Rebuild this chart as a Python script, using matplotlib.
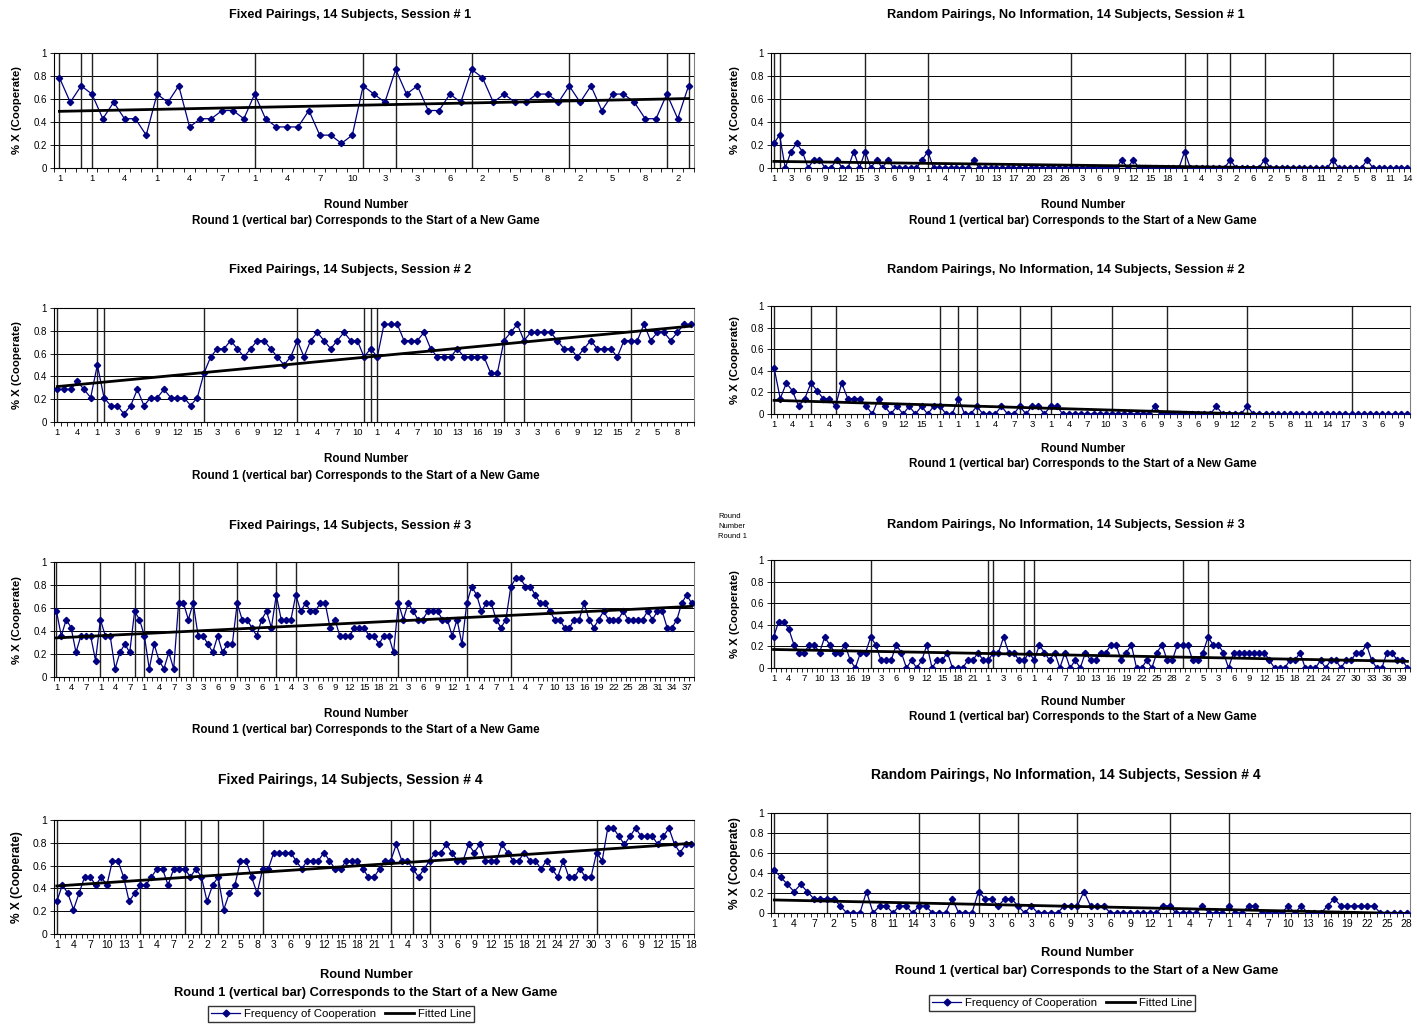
import matplotlib
matplotlib.use('Agg')
import matplotlib.pyplot as plt
from matplotlib.lines import Line2D
import numpy as np

plt.rcParams['font.family'] = ['Liberation Sans', 'DejaVu Sans']

W, H = 1417, 1026
N_SUBJECTS = 14

# ---- Fixed pairings (left column) ----
# number of subjects (out of 14) choosing X in each round
fixed1_counts = [11, 8, 10, 9, 6, 8, 6, 6, 4, 9, 8, 10, 5, 6, 6, 7, 7, 6, 9, 6,
                 5, 5, 5, 7, 4, 4, 3, 4, 10, 9, 8, 12, 9, 10, 7, 7, 9, 8, 12, 11,
                 8, 9, 8, 8, 9, 9, 8, 10, 8, 10, 7, 9, 9, 8, 6, 6, 9, 6, 10]
fixed1_starts = [0, 2, 3, 9, 18, 28, 31, 38, 47, 56, 58]
fixed1_labels = [1, 1, 4, 1, 4, 7, 1, 4, 7, 10, 3, 3, 6, 2, 5, 8, 2, 5, 8, 2]

fixed2_counts = [4, 4, 4, 5, 4, 3, 7, 3, 2, 2, 1, 2, 4, 2, 3, 3, 4, 3, 3, 3,
                 2, 3, 6, 8, 9, 9, 10, 9, 8, 9, 10, 10, 9, 8, 7, 8, 10, 8, 10, 11,
                 10, 9, 10, 11, 10, 10, 8, 9, 8, 12, 12, 12, 10, 10, 10, 11, 9, 8, 8, 8,
                 9, 8, 8, 8, 8, 6, 6, 10, 11, 12, 10, 11, 11, 11, 11, 10, 9, 9, 8, 9,
                 10, 9, 9, 9, 8, 10, 10, 10, 12, 10, 11, 11, 10, 11, 12, 12]
fixed2_starts = [0, 6, 7, 22, 36, 46, 47, 48, 67, 70, 86]
fixed2_labels = [1, 4, 1, 3, 6, 9, 12, 15, 3, 6, 9, 12, 1, 4, 7, 10, 1, 4, 7, 10,
                 13, 16, 19, 3, 3, 6, 9, 12, 15, 2, 5, 8]

fixed3_counts = [8, 5, 7, 6, 3, 5, 5, 5, 2, 7, 5, 5, 1, 3, 4, 3, 8, 7, 5, 1,
                 4, 2, 1, 3, 1, 9, 9, 7, 9, 5, 5, 4, 3, 5, 3, 4, 4, 9, 7, 7,
                 6, 5, 7, 8, 6, 10, 7, 7, 7, 10, 8, 9, 8, 8, 9, 9, 6, 7, 5, 5,
                 5, 6, 6, 6, 5, 5, 4, 5, 5, 3, 9, 7, 9, 8, 7, 7, 8, 8, 8, 7,
                 7, 5, 7, 4, 9, 11, 10, 8, 9, 9, 7, 6, 7, 11, 12, 12, 11, 11, 10, 9,
                 9, 8, 7, 7, 6, 6, 7, 7, 9, 7, 6, 7, 8, 7, 7, 7, 8, 7, 7, 7,
                 7, 8, 7, 8, 8, 6, 6, 7, 9, 10, 9]
fixed3_starts = [0, 9, 16, 18, 25, 28, 37, 45, 49, 70, 84, 93]
fixed3_labels = [1, 4, 7, 1, 4, 7, 1, 4, 7, 3, 3, 6, 9, 3, 6, 1, 4, 3, 6, 9,
                 12, 15, 18, 21, 3, 6, 9, 12, 1, 4, 7, 1, 4, 7, 10, 13, 16, 19, 22, 25,
                 28, 31, 34, 37]

fixed4_counts = [4, 6, 5, 3, 5, 7, 7, 6, 7, 6, 9, 9, 7, 4, 5, 6, 6, 7, 8, 8,
                 6, 8, 8, 8, 7, 8, 7, 4, 6, 7, 3, 5, 6, 9, 9, 7, 5, 8, 8, 10,
                 10, 10, 10, 9, 8, 9, 9, 9, 10, 9, 8, 8, 9, 9, 9, 8, 7, 7, 8, 9,
                 9, 11, 9, 9, 8, 7, 8, 9, 10, 10, 11, 10, 9, 9, 11, 10, 11, 9, 9, 9,
                 11, 10, 9, 9, 10, 9, 9, 8, 9, 8, 7, 9, 7, 7, 8, 7, 7, 10, 9, 13,
                 13, 12, 11, 12, 13, 12, 12, 12, 11, 12, 13, 11, 10, 11, 11]
fixed4_starts = [0, 15, 23, 26, 29, 37, 60, 64, 67, 97]
fixed4_labels = [1, 4, 7, 10, 13, 1, 4, 7, 2, 2, 2, 5, 8, 3, 6, 9, 12, 15, 18, 21,
                 1, 4, 3, 3, 6, 9, 12, 15, 18, 21, 24, 27, 30, 3, 6, 9, 12, 15, 18]

# ---- Random pairings, no information (right column) ----
random1_counts = [3, 4, 0, 2, 3, 2, 0, 1, 1, 0, 0, 1, 0, 0, 2, 0, 2, 0, 1, 0,
                  1, 0, 0, 0, 0, 0, 1, 2, 0, 0, 0, 0, 0, 0, 0, 1, 0, 0, 0, 0,
                  0, 0, 0, 0, 0, 0, 0, 0, 0, 0, 0, 0, 0, 0, 0, 0, 0, 0, 0, 0,
                  0, 1, 0, 1, 0, 0, 0, 0, 0, 0, 0, 0, 2, 0, 0, 0, 0, 0, 0, 0,
                  1, 0, 0, 0, 0, 0, 1, 0, 0, 0, 0, 0, 0, 0, 0, 0, 0, 0, 1, 0,
                  0, 0, 0, 0, 1, 0, 0, 0, 0, 0, 0, 0]
random1_starts = [0, 1, 16, 27, 52, 72, 76, 80, 86, 98]
random1_labels = [1, 3, 6, 9, 12, 15, 3, 6, 9, 1, 4, 7, 10, 13, 17, 20, 23, 26, 3, 6,
                  9, 12, 15, 18, 1, 4, 3, 2, 6, 2, 5, 8, 11, 2, 5, 8, 11, 14]

random2_counts = [6, 2, 4, 3, 1, 2, 4, 3, 2, 2, 1, 4, 2, 2, 2, 1, 0, 2, 1, 0,
                  1, 0, 1, 0, 1, 0, 1, 1, 0, 0, 2, 0, 0, 1, 0, 0, 0, 1, 0, 0,
                  1, 0, 1, 1, 0, 1, 1, 0, 0, 0, 0, 0, 0, 0, 0, 0, 0, 0, 0, 0,
                  0, 0, 1, 0, 0, 0, 0, 0, 0, 0, 0, 0, 1, 0, 0, 0, 0, 1, 0, 0,
                  0, 0, 0, 0, 0, 0, 0, 0, 0, 0, 0, 0, 0, 0, 0, 0, 0, 0, 0, 0,
                  0, 0, 0, 0]
random2_starts = [0, 6, 10, 27, 30, 33, 40, 45, 55, 64, 77, 94]
random2_labels = [1, 4, 1, 4, 3, 6, 9, 12, 15, 1, 1, 1, 4, 7, 3, 1, 4, 7, 10, 3,
                  6, 9, 3, 6, 9, 12, 2, 5, 8, 11, 14, 17, 3, 6, 9]

random3_counts = [4, 6, 6, 5, 3, 2, 2, 3, 3, 2, 4, 3, 2, 2, 3, 1, 0, 2, 2, 4,
                  3, 1, 1, 1, 3, 2, 0, 1, 0, 1, 3, 0, 1, 1, 2, 0, 0, 0, 1, 1,
                  2, 1, 1, 2, 2, 4, 2, 2, 1, 1, 2, 1, 3, 2, 1, 2, 0, 2, 0, 1,
                  0, 2, 1, 1, 2, 2, 3, 3, 1, 2, 3, 0, 0, 1, 0, 2, 3, 1, 1, 3,
                  3, 3, 1, 1, 2, 4, 3, 3, 2, 0, 2, 2, 2, 2, 2, 2, 2, 1, 0, 0,
                  0, 1, 1, 2, 0, 0, 0, 1, 0, 1, 1, 0, 1, 1, 2, 2, 3, 1, 0, 0,
                  2, 2, 1, 1, 0]
random3_starts = [0, 19, 42, 43, 49, 51, 80, 85]
random3_labels = [1, 4, 7, 10, 13, 16, 19, 3, 6, 9, 12, 15, 18, 21, 1, 3, 6, 1, 4, 7,
                  10, 13, 16, 19, 22, 25, 28, 2, 5, 3, 6, 9, 12, 15, 18, 21, 24, 27, 30, 33,
                  36, 39]

random4_counts = [6, 5, 4, 3, 4, 3, 2, 2, 2, 2, 1, 0, 0, 0, 3, 0, 1, 1, 0, 1,
                  1, 0, 1, 1, 0, 0, 0, 2, 0, 0, 0, 3, 2, 2, 1, 2, 2, 1, 0, 1,
                  0, 0, 0, 0, 1, 1, 1, 3, 1, 1, 1, 0, 0, 0, 0, 0, 0, 0, 0, 1,
                  1, 0, 0, 0, 0, 1, 0, 0, 0, 1, 0, 0, 1, 1, 0, 0, 0, 0, 1, 0,
                  1, 0, 0, 0, 1, 2, 1, 1, 1, 1, 1, 1, 0, 0, 0, 0, 0]
random4_starts = [0, 8, 22, 31, 37, 46, 60, 69]
random4_labels = [1, 4, 7, 2, 5, 8, 11, 14, 3, 6, 9, 3, 6, 3, 6, 9, 3, 6, 9, 12,
                  1, 4, 7, 1, 4, 7, 10, 13, 16, 19, 22, 25, 28]

fixed_title = 'Fixed Pairings, 14 Subjects, Session # {}'
random_title = 'Random Pairings, No Information, 14 Subjects, Session # {}'
xlabel_1 = 'Round Number'
xlabel_2 = 'Round 1 (vertical bar) Corresponds to the Start of a New Game'

NAVY = '#000080'


def px(x, y):
    """pixel (from top-left) -> figure fraction"""
    return x / W, 1 - y / H


def draw_panel(fig, box, counts, starts, labels, big=False):
    left, top, right, bottom = box
    ax = fig.add_axes([left / W, 1 - bottom / H, (right - left) / W, (bottom - top) / H])
    y = np.array(counts) / N_SUBJECTS
    x = np.arange(len(y))

    # horizontal grid
    for g in [0.2, 0.4, 0.6, 0.8, 1.0]:
        ax.axhline(g, color='black', lw=0.7, zorder=1)

    # start of each new game
    ax.vlines(starts, 0, 1, color='#222222', lw=1.0, zorder=2)

    ax.plot(x, y, color=NAVY, lw=0.9, marker='D', ms=3.2, mec=NAVY, mfc=NAVY, zorder=3)

    slope, icpt = np.polyfit(x, y, 1)
    ax.plot([0, len(y) - 1], [icpt, icpt + slope * (len(y) - 1)], color='black', lw=2.0, zorder=4)

    ax.set_xlim(-0.5, len(y) - 0.5)
    ax.set_ylim(0, 1)

    ax.set_xticks(np.arange(0, len(y), 3)[:len(labels)])
    ax.set_xticklabels([str(v) for v in labels], fontsize=7.5 if big else 6.8)
    ax.set_xticks(np.arange(len(y) + 1) - 0.5, minor=True)
    ax.tick_params(axis='x', which='major', length=0, pad=4)
    ax.tick_params(axis='x', which='minor', length=3, width=0.6, direction='out')

    ax.set_yticks([0, 0.2, 0.4, 0.6, 0.8, 1.0])
    ax.set_yticklabels(['0', '0.2', '0.4', '0.6', '0.8', '1'], fontsize=7.5 if big else 7)
    ax.tick_params(axis='y', length=3, width=0.6, pad=2)

    for s in ['left', 'bottom', 'top']:
        ax.spines[s].set_color('black')
        ax.spines[s].set_linewidth(0.8)
    ax.spines['right'].set_color('#808080')
    ax.spines['right'].set_linewidth(0.8)
    return ax


def add_texts(fig, title, title_xy, ylab_xy, xl1_xy, xl2_xy, big=False):
    fig.text(*px(*title_xy), title, ha='center', va='center',
             fontsize=10 if big else 9.2, fontweight='bold')
    fig.text(*px(*ylab_xy), '% X (Cooperate)', ha='center', va='center', rotation=90,
             fontsize=8.6 if big else 8.2, fontweight='bold')
    fig.text(*px(*xl1_xy), xlabel_1, ha='center', va='center',
             fontsize=9.3 if big else 8.4, fontweight='bold')
    fig.text(*px(*xl2_xy), xlabel_2, ha='center', va='center',
             fontsize=9.3 if big else 8.4, fontweight='bold')


def add_legend(fig, center):
    handles = [Line2D([], [], color=NAVY, lw=0.9, marker='D', ms=3.5),
               Line2D([], [], color='black', lw=2.0)]
    fig.legend(handles, ['Frequency of Cooperation', 'Fitted Line'], loc='center',
               bbox_to_anchor=px(*center), ncol=2, fontsize=8.2, frameon=True,
               fancybox=False, edgecolor='black', borderpad=0.25, handlelength=2.6,
               handletextpad=0.3, columnspacing=0.8, borderaxespad=0)


fig = plt.figure(figsize=(W / 100, H / 100), dpi=100)

fixed = [
    (fixed1_counts, fixed1_starts, fixed1_labels, (54, 53, 694, 168), 15, 205, 221),
    (fixed2_counts, fixed2_starts, fixed2_labels, (54, 308, 694, 422), 270, 459, 476),
    (fixed3_counts, fixed3_starts, fixed3_labels, (54, 562, 694, 677), 526, 714, 730),
    (fixed4_counts, fixed4_starts, fixed4_labels, (54, 820, 694, 934), 780, 975, 993),
]
for i, (c, s, lab, box, ty, x1y, x2y) in enumerate(fixed):
    big = i == 3
    draw_panel(fig, box, c, s, lab, big)
    mid = (box[1] + box[3]) / 2
    add_texts(fig, fixed_title.format(i + 1), (350, ty), (17, mid), (366, x1y), (366, x2y), big)

rand = [
    (random1_counts, random1_starts, random1_labels, (771, 53, 1410, 168), 15, 205, 221),
    (random2_counts, random2_starts, random2_labels, (771, 306, 1410, 414), 270, 449, 464),
    (random3_counts, random3_starts, random3_labels, (771, 560, 1410, 668), 525, 702, 717),
    (random4_counts, random4_starts, random4_labels, (771, 813, 1410, 913), 775, 953, 971),
]
for i, (c, s, lab, box, ty, x1y, x2y) in enumerate(rand):
    big = i == 3
    draw_panel(fig, box, c, s, lab, big)
    mid = (box[1] + box[3]) / 2
    xc = 1087 if big else 1083
    add_texts(fig, random_title.format(i + 1), (1066, ty), (735, mid), (xc, x1y), (xc, x2y), big)

add_legend(fig, (341, 1014))
add_legend(fig, (1062, 1003))

# stray label left over in the original sheet
fig.text(*px(718, 527), 'Round\nNumber\nRound 1', ha='left', va='center', fontsize=5.5, linespacing=1.6)

fig.savefig('out.png', dpi=100)
